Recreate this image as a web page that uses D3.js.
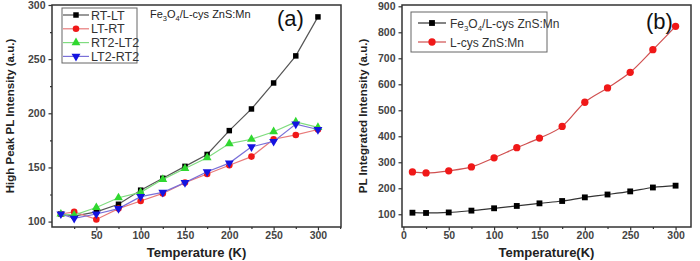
<!DOCTYPE html>
<html>
<head>
<meta charset="utf-8">
<script src="https://cdn.jsdelivr.net/npm/d3@7"></script>
<style>
  body { margin: 0; background: #fff; }
  svg { display: block; font-family: "Liberation Sans", Arial, sans-serif; }
</style>
</head>
<body>
<script>
'use strict';

// panel (a): temperature cycles
const tempsA = [10, 25, 50, 75, 100, 125, 150, 175, 200, 225, 250, 275, 300];
const rtLt   = [107, 105, 109, 116, 129, 140, 151, 162, 184, 204, 228, 253, 289];
const ltRt   = [107, 109, 102, 112, 119, 126, 136, 144, 152, 160, 176, 180, 185];
const rt2Lt2 = [107, 106, 113, 122, 127, 139, 149, 159, 172, 176, 183, 192, 187];
const lt2Rt2 = [107, 103, 107, 112, 123, 127, 136, 146, 154, 169, 174, 190, 185];

// panel (b): integrated intensity
const tempsB = [10, 25, 50, 75, 100, 125, 150, 175, 200, 225, 250, 275, 300];
const fe3o4  = [106, 105, 107, 114, 123, 132, 142, 151, 165, 176, 188, 203, 210];
const lcys   = [263, 259, 267, 282, 317, 356, 393, 438, 531, 586, 646, 733, 823];

const ticksA = [100, 150, 200, 250, 300];
const ticksB = [100, 200, 300, 400, 500, 600, 700, 800, 900];
const ticksX = [50, 100, 150, 200, 250, 300];
const ticksXB = [0, 50, 100, 150, 200, 250, 300];

const width = 700, height = 261;
const svg = d3.select('body').append('svg')
  .attr('width', width).attr('height', height);

const axisCol = '#333';

function panel(opt) {
  const x = d3.scaleLinear().domain(opt.xDomain).range([opt.left, opt.right]);
  const y = d3.scaleLinear().domain(opt.yDomain).range([opt.bottom, opt.top]);
  const g = svg.append('g');

  // frame
  g.append('rect')
    .attr('x', opt.left).attr('y', opt.top)
    .attr('width', opt.right - opt.left).attr('height', opt.bottom - opt.top)
    .attr('fill', 'none').attr('stroke', axisCol).attr('stroke-width', 1.5);

  // axes, major + minor ticks pointing out
  const xa = g.append('g').attr('transform', `translate(0,${opt.bottom})`)
    .call(d3.axisBottom(x).tickValues(opt.xTicks).tickSize(3.5).tickPadding(1));
  const xm = g.append('g').attr('transform', `translate(0,${opt.bottom})`)
    .call(d3.axisBottom(x).tickValues(opt.xMinor).tickSize(2).tickFormat(''));
  const ya = g.append('g').attr('transform', `translate(${opt.left},0)`)
    .call(d3.axisLeft(y).tickValues(opt.yTicks).tickSize(3.5).tickPadding(3));
  const ym = g.append('g').attr('transform', `translate(${opt.left},0)`)
    .call(d3.axisLeft(y).tickValues(opt.yMinor).tickSize(2).tickFormat(''));
  [xa, xm, ya, ym].forEach(a => {
    a.select('.domain').remove();
    a.selectAll('line').attr('stroke', axisCol).attr('stroke-width', 1.2);
    a.selectAll('text').attr('fill', '#444').attr('font-size', 10.5)
      .attr('font-weight', 'bold').attr('font-family', '"Liberation Sans", Arial, sans-serif');
  });

  // titles
  g.append('text')
    .attr('x', (opt.left + opt.right) / 2).attr('y', 257)
    .attr('text-anchor', 'middle').attr('font-size', 13).attr('font-weight', 'bold')
    .attr('fill', '#222').text(opt.xTitle);
  g.append('text')
    .attr('transform', `translate(${opt.yTitleX},${(opt.top + opt.bottom) / 2}) rotate(-90)`)
    .attr('text-anchor', 'middle').attr('font-size', 11.5).attr('font-weight', 'bold')
    .attr('fill', '#222').text(opt.yTitle);

  return { x, y, g };
}

function marker(sel, shape, size) {
  const sym = {
    square: d3.symbolSquare,
    circle: d3.symbolCircle,
    up: d3.symbolTriangle
  };
  if (shape === 'down') {
    sel.attr('d', d3.symbol(d3.symbolTriangle, size)()).each(function () {
      const t = d3.select(this).attr('transform');
      d3.select(this).attr('transform', t + ' rotate(180)');
    });
  } else {
    sel.attr('d', d3.symbol(sym[shape], size)());
  }
}

function series(p, xs, ys, s, curve) {
  const pts = xs.map((t, i) => [t, ys[i]]);
  const line = d3.line().x(d => p.x(d[0])).y(d => p.y(d[1])).curve(curve || d3.curveLinear);
  p.g.append('path').datum(pts)
    .attr('d', line).attr('fill', 'none')
    .attr('stroke', s.line).attr('stroke-width', 1.2);
  p.g.selectAll(null).data(pts).enter().append('path')
    .attr('transform', d => `translate(${p.x(d[0])},${p.y(d[1])})`)
    .attr('fill', s.fill)
    .call(marker, s.shape, s.size);
}

function legend(p, items, box) {
  const lg = p.g.append('g');
  lg.append('rect')
    .attr('x', box.x).attr('y', box.y).attr('width', box.w).attr('height', box.h)
    .attr('fill', '#fff').attr('stroke', '#666').attr('stroke-width', 1);
  items.forEach((it, i) => {
    const cy = box.y + box.first + i * box.step;
    lg.append('line')
      .attr('x1', box.lx1).attr('x2', box.lx2).attr('y1', cy).attr('y2', cy)
      .attr('stroke', it.line).attr('stroke-width', 1.2);
    lg.append('path')
      .attr('transform', `translate(${(box.lx1 + box.lx2) / 2},${cy})`)
      .attr('fill', it.fill)
      .call(marker, it.shape, it.size);
    const t = lg.append('text')
      .attr('x', box.tx).attr('y', cy + 4.5)
      .attr('font-size', box.fs).attr('fill', '#333');
    if (it.label === 'Fe3O4/L-cys ZnS:Mn') {
      t.append('tspan').text('Fe');
      t.append('tspan').attr('font-size', box.fs * 0.65).attr('dy', 3).text('3');
      t.append('tspan').attr('dy', -3).text('O');
      t.append('tspan').attr('font-size', box.fs * 0.65).attr('dy', 3).text('4');
      t.append('tspan').attr('dy', -3).text('/L-cys ZnS:Mn');
    } else {
      t.text(it.label);
    }
  });
}

// ---- panel (a)
const pa = panel({
  left: 52, right: 341, top: 5, bottom: 227,
  xDomain: [0, 326], yDomain: [95, 300],
  xTicks: ticksX, xMinor: [25, 75, 125, 175, 225, 275, 325],
  yTicks: ticksA, yMinor: [125, 175, 225, 275],
  xTitle: 'Temperature (K)', yTitle: 'High Peak PL Intensity (a.u.)', yTitleX: 14
});

const styleA = [
  { label: 'RT-LT',   ys: rtLt,   line: '#555',    fill: '#000',    shape: 'square', size: 30 },
  { label: 'LT-RT',   ys: ltRt,   line: '#e87a7a', fill: '#f01818', shape: 'circle', size: 34 },
  { label: 'RT2-LT2', ys: rt2Lt2, line: '#7fdc7f', fill: '#30d830', shape: 'up',     size: 34 },
  { label: 'LT2-RT2', ys: lt2Rt2, line: '#7a70d8', fill: '#1414e0', shape: 'down',   size: 34 }
];
styleA.forEach(s => series(pa, tempsA, s.ys, s));

legend(pa, styleA, {
  x: 62, y: 8, w: 75, h: 55, first: 7, step: 13.8,
  lx1: 63, lx2: 89, tx: 91, fs: 12.5
});

const ann = pa.g.append('text').attr('x', 150).attr('y', 18)
  .attr('font-size', 11).attr('fill', '#222');
ann.append('tspan').text('Fe');
ann.append('tspan').attr('font-size', 7.5).attr('dy', 3).text('3');
ann.append('tspan').attr('dy', -3).text('O');
ann.append('tspan').attr('font-size', 7.5).attr('dy', 3).text('4');
ann.append('tspan').attr('dy', -3).text('/L-cys ZnS:Mn');

pa.g.append('text').attr('x', 277).attr('y', 26)
  .attr('font-size', 22).attr('fill', '#111').text('(a)');

// ---- panel (b)
const pb = panel({
  left: 402, right: 691, top: 5, bottom: 227,
  xDomain: [-1.5, 317], yDomain: [51, 905],
  xTicks: ticksXB, xMinor: [25, 75, 125, 175, 225, 275],
  yTicks: ticksB, yMinor: [],
  xTitle: 'Temperature(K)', yTitle: 'PL Integrated Intensity (a.u.)', yTitleX: 367
});

const styleB = [
  { label: 'Fe3O4/L-cys ZnS:Mn', ys: fe3o4, line: '#333',    fill: '#000',    shape: 'square', size: 34 },
  { label: 'L-cys ZnS:Mn',       ys: lcys,  line: '#d05050', fill: '#f01818', shape: 'circle', size: 42 }
];
styleB.forEach(s => series(pb, tempsB, s.ys, s, d3.curveMonotoneX));

legend(pb, styleB, {
  x: 411, y: 12, w: 136, h: 40, first: 11, step: 19,
  lx1: 418, lx2: 446, tx: 450, fs: 12
});

pb.g.append('text').attr('x', 646).attr('y', 29)
  .attr('font-size', 22).attr('fill', '#111').text('(b)');
</script>
</body>
</html>
